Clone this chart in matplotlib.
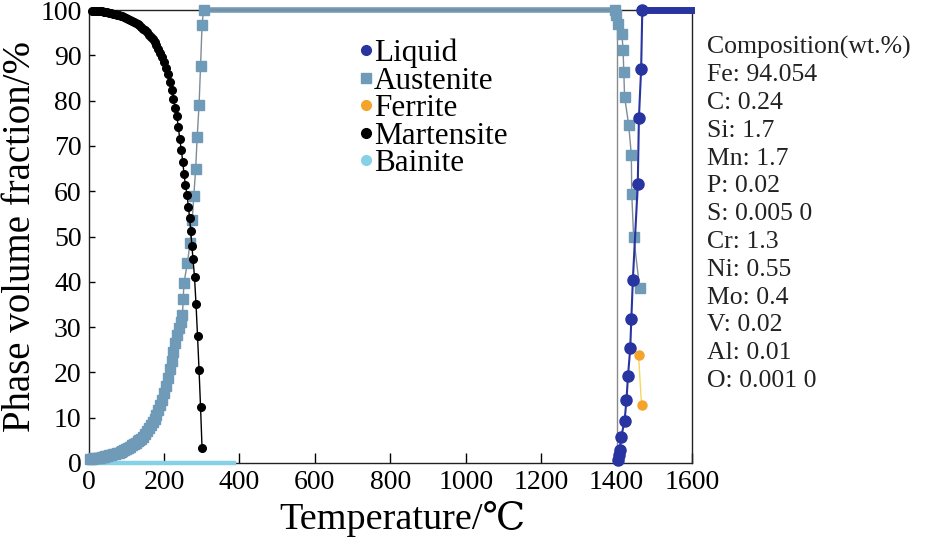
import matplotlib
matplotlib.use("Agg")
import matplotlib.pyplot as plt
from matplotlib.lines import Line2D

plt.rcParams['font.family'] = ['Liberation Serif', 'DejaVu Serif', 'DejaVu Sans']

# Martensite (cooling, low temperature)
mart_T = [10, 15, 20, 25, 30, 35, 40, 45, 50, 55, 60, 65, 70, 75, 80, 85, 90, 95, 100, 105,
          110, 115, 120, 125, 130, 135, 140, 145, 150, 155, 160, 165, 170, 175, 180, 185, 190,
          195, 200, 205, 210, 215, 220, 225, 230, 234, 238, 242, 246, 250, 253, 257, 261, 265,
          268, 271, 274, 277, 281, 285, 289, 293, 297, 301]
mart_y = [99.9, 99.9, 99.8, 99.8, 99.7, 99.7, 99.6, 99.5, 99.5, 99.4, 99.3, 99.2, 99.1, 99.0,
          98.9, 98.8, 98.6, 98.4, 98.2, 98.0, 97.8, 97.6, 97.4, 97.1, 96.9, 96.6, 96.3, 95.9,
          95.5, 95.1, 94.6, 94.1, 93.6, 93.0, 92.3, 91.5, 90.6, 89.6, 88.5, 87.3, 85.8, 84.1,
          82.3, 80.4, 78.4, 76.6, 74.2, 71.5, 69.0, 66.5, 63.8, 61.4, 59.2, 56.5, 54.0, 51.2,
          48.0, 45.0, 41.0, 35.0, 28.0, 20.5, 12.3, 3.2]

# Austenite
aust_T = [5, 10, 15, 20, 25, 30, 35, 40, 45, 50, 55, 60, 65, 70, 75, 80, 85, 90, 95, 100,
          105, 110, 115, 120, 125, 130, 135, 140, 145, 150, 155, 160, 165, 170, 175, 180, 185,
          190, 195, 200, 205, 210, 215, 220, 225, 230, 235, 240, 245, 249, 251, 253, 262, 269,
          275, 279, 284, 288, 293, 297, 301, 305,
          1395, 1399, 1403, 1414, 1417, 1419, 1421, 1432, 1439, 1440, 1445, 1461]
aust_y = [0.8, 0.9, 1.0, 1.0, 1.1, 1.2, 1.3, 1.4, 1.5, 1.6, 1.7, 1.8, 1.9, 2.0, 2.1, 2.3, 2.5,
          2.7, 2.9, 3.1, 3.4, 3.6, 3.9, 4.2, 4.5, 4.8, 5.0, 5.3, 5.8, 6.4, 7.0, 7.7, 8.4, 9.1,
          9.8, 10.7, 11.7, 12.8, 14.0, 15.4, 17.0, 18.8, 20.8, 22.6, 24.5, 26.4, 28.2, 29.8,
          31.2, 32.7, 36.1, 39.8, 44.1, 48.5, 53.6, 58.9, 64.9, 71.9, 79.0, 87.6, 96.8, 100,
          100, 98.9, 97.0, 94.8, 91.2, 86.4, 80.9, 74.6, 68.0, 59.5, 50.0, 38.6]
aust_plateau_T = [305, 1395]
aust_plateau_y = [100, 100]
edge_T = [1401, 1401]
edge_y = [0, 100]

# Liquid
liq_T = [1403, 1405, 1408, 1412, 1421, 1426, 1430, 1436, 1439, 1443, 1456, 1459, 1465, 1468]
liq_y = [0.7, 1.8, 2.9, 5.7, 9.3, 13.8, 19.1, 25.3, 31.9, 40.5, 61.5, 76.1, 87.1, 100]
liq_plateau_T = [1462, 1598]
liq_plateau_y = [100, 100]

# Ferrite
fer_T = [1458, 1466]
fer_y = [23.8, 12.8]

# Bainite
bain_T = [0, 385]
bain_y = [0, 0]

composition = ['Composition(wt.%)', 'Fe: 94.054', 'C: 0.24', 'Si: 1.7', 'Mn: 1.7', 'P: 0.02',
               'S: 0.005 0', 'Cr: 1.3', 'Ni: 0.55', 'Mo: 0.4', 'V: 0.02', 'Al: 0.01',
               'O: 0.001 0']

c_liq = '#28349f'
c_aus = '#6f9ab8'
c_fer = '#f4a42a'
c_mar = '#000000'
c_bai = '#86d0e8'

fig = plt.figure(figsize=(9.25, 5.45), dpi=100)
ax = fig.add_axes([0.0957, 0.1505, 0.6525, 0.831])

ax.plot(bain_T, bain_y, color=c_bai, lw=3.2, clip_on=False, zorder=3)
ax.plot(edge_T, edge_y, color='#8a8a8a', lw=1.0, zorder=2)
ax.plot(aust_plateau_T, aust_plateau_y, color=c_aus, lw=4, clip_on=False, zorder=3)
ax.plot(aust_T, aust_y, color='#7d8c96', lw=1.0, marker='s', ms=7.5, mfc=c_aus, mec=c_aus,
        clip_on=False, zorder=3)
ax.plot(mart_T, mart_y, color=c_mar, lw=1.0, marker='o', ms=5.5, clip_on=False, zorder=4)
ax.plot(liq_plateau_T, liq_plateau_y, color=c_liq, lw=5, clip_on=False, zorder=4)
ax.plot(liq_T, liq_y, color=c_liq, lw=1.5, marker='o', ms=8, clip_on=False, zorder=4)
ax.plot(fer_T, fer_y, color='#f7d65a', lw=1.0, marker='o', ms=6.5, mfc=c_fer, mec=c_fer, zorder=5)

ax.set_xlim(0, 1600)
ax.set_ylim(0, 100)
ax.set_xticks(range(0, 1601, 200))
ax.set_yticks(range(0, 101, 10))
ax.tick_params(axis='x', direction='in', length=7, width=1, labelsize=20, pad=5)
ax.tick_params(axis='y', direction='in', length=4, width=1, labelsize=20, pad=5)
ax.tick_params(top=False, right=False)
for s in ax.spines.values():
    s.set_linewidth(1.0)
    s.set_color('#222222')
ax.set_xlabel('Temperature/℃', fontsize=27.5, labelpad=3)
ax.xaxis.set_label_coords(0.52, -0.085)
ax.set_ylabel('Phase volume fraction/%', fontsize=28, labelpad=1)

handles = [
    Line2D([], [], ls='none', marker='o', ms=7, color=c_liq),
    Line2D([], [], ls='none', marker='s', ms=7, color=c_aus),
    Line2D([], [], ls='none', marker='o', ms=7, color=c_fer),
    Line2D([], [], ls='none', marker='o', ms=7, color=c_mar),
    Line2D([], [], ls='none', marker='o', ms=7, color=c_bai),
]
labels = ['Liquid', 'Austenite', 'Ferrite', 'Martensite', 'Bainite']
ax.legend(handles, labels, loc='upper left', bbox_to_anchor=(0.4, 0.985), frameon=False,
          fontsize=22.5, labelspacing=-0.05, handletextpad=-0.2, handlelength=0.9,
          borderpad=0.2)

fig.text(0.764, 0.935, '\n'.join(composition), fontsize=18.5, va='top', ha='left',
         linespacing=1.34, color='#222222')

fig.savefig('out.png', dpi=100)
